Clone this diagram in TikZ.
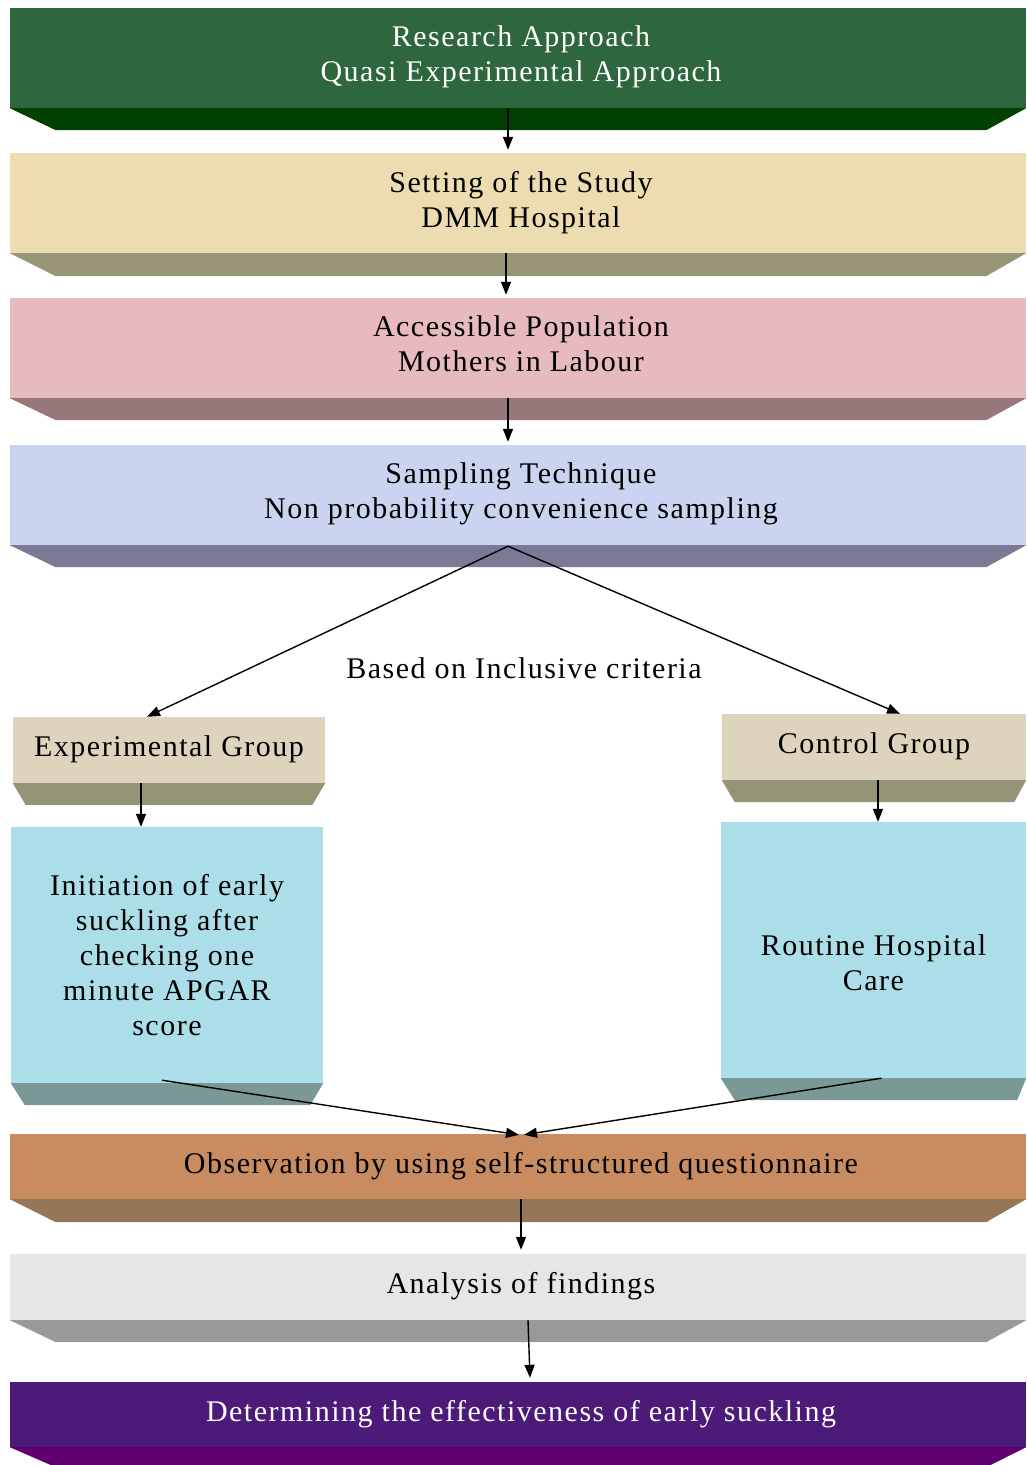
\documentclass[tikz,border=0pt]{standalone}
\usepackage{fontspec}
\setmainfont{Liberation Serif}[LetterSpace=5]
\usetikzlibrary{arrows.meta,calc}
\definecolor{greenface}{RGB}{46,102,62}
\definecolor{greenbev}{RGB}{0,64,0}
\definecolor{beigeface}{RGB}{236,220,176}
\definecolor{beigebev}{RGB}{152,150,118}
\definecolor{pinkface}{RGB}{230,186,190}
\definecolor{pinkbev}{RGB}{150,120,122}
\definecolor{lavface}{RGB}{202,212,240}
\definecolor{lavbev}{RGB}{122,122,150}
\definecolor{linenface}{RGB}{222,212,190}
\definecolor{linenbev}{RGB}{150,148,118}
\definecolor{waterface}{RGB}{172,222,234}
\definecolor{waterbev}{RGB}{122,152,150}
\definecolor{woodface}{RGB}{200,140,96}
\definecolor{woodbev}{RGB}{150,118,88}
\definecolor{marbleface}{RGB}{228,230,232}
\definecolor{marblebev}{RGB}{153,153,153}
\definecolor{purpleface}{RGB}{76,26,120}
\definecolor{purplebev}{RGB}{96,0,112}
\newcommand{\lift}[2]{\raisebox{#1}[\height][\depth]{\begin{tabular}{@{}c@{}}#2\end{tabular}}}
\newcommand{\bevel}[5]{% node, colour, left inset, right inset, height
  \fill[#2] (#1.south west) -- (#1.south east) -- ($(#1.south east)+(-#4,#5)$)
    -- ($(#1.south west)+(#3,#5)$) -- cycle;}
\tikzset{
  face/.style={rectangle, inner sep=0pt, draw=none, align=center,
    font=\fontsize{30}{35}\selectfont},
  arr/.style={-{Triangle[length=13pt,width=10pt]}, line width=1.4pt, black},
  lbl/.style={font=\fontsize{30}{35}\selectfont, inner sep=0pt}
}
\begin{document}
\begin{tikzpicture}[x=1pt,y=-1pt]
\useasboundingbox (0,0) rectangle (1026,1465);
% wide boxes
\node[face, fill=greenface, text=white, minimum width=1016, minimum height=100] (b1) at (518,58)
  {\lift{1pt}{\hspace*{6pt}Research Approach\\\hspace*{6pt}Quasi Experimental Approach}};
\bevel{b1}{greenbev}{46}{40}{22}
\node[face, fill=beigeface, minimum width=1016, minimum height=100] (b2) at (518,203)
  {\lift{0pt}{\hspace*{6pt}Setting of the Study\\\hspace*{6pt}DMM Hospital}};
\bevel{b2}{beigebev}{46}{40}{23}
\node[face, fill=pinkface, minimum width=1016, minimum height=100] (b3) at (518,348)
  {\lift{1pt}{\hspace*{6pt}Accessible Population\\\hspace*{6pt}Mothers in Labour}};
\bevel{b3}{pinkbev}{46}{40}{22}
\node[face, fill=lavface, minimum width=1016, minimum height=100] (b4) at (518,495)
  {\lift{1pt}{\hspace*{6pt}Sampling Technique\\\hspace*{6pt}Non probability convenience sampling}};
\bevel{b4}{lavbev}{46}{40}{22}
% group boxes
\node[face, fill=linenface, minimum width=312, minimum height=66] (eg) at (169,750)
  {\lift{1pt}{Experimental Group}};
\bevel{eg}{linenbev}{13}{13}{22}
\node[face, fill=linenface, minimum width=304, minimum height=66] (cg) at (874,747)
  {\lift{1pt}{Control Group}};
\bevel{cg}{linenbev}{13}{12}{22}
\node[face, fill=waterface, minimum width=312, minimum height=256] (ini) at (167,955)
  {Initiation of early\\suckling after\\checking one\\minute APGAR\\score};
\bevel{ini}{waterbev}{14}{13}{22}
\node[face, fill=waterface, minimum width=305, minimum height=256] (rt) at (873.5,950)
  {\lift{-16pt}{Routine Hospital\\Care}};
\bevel{rt}{waterbev}{14}{9}{22}
% lower wide boxes
\node[face, fill=woodface, minimum width=1016, minimum height=65] (ob) at (518,1166.5)
  {\lift{0pt}{\hspace*{6pt}Observation by using self-structured questionnaire}};
\bevel{ob}{woodbev}{46}{40}{23}
\node[face, fill=marbleface, minimum width=1016, minimum height=66] (an) at (518,1287)
  {\lift{1pt}{\hspace*{6pt}Analysis of findings}};
\bevel{an}{marblebev}{46}{40}{22}
\node[face, fill=purpleface, text=white, minimum width=1016, minimum height=65] (dt) at (518,1414.5)
  {\lift{0pt}{\hspace*{6pt}Determining the effectiveness of early suckling}};
\bevel{dt}{purplebev}{46}{40}{20}
% label
\node[lbl] (crit) at (524,668) {Based on Inclusive criteria};
% connectors
\draw[arr] ([xshift=-10pt]b1.south) -- ([xshift=-10pt,yshift=3pt]b2.north);
\draw[arr] ([xshift=-12pt]b2.south) -- ([xshift=-12pt,yshift=3pt]b3.north);
\draw[arr] ([xshift=-10pt]b3.south) -- ([xshift=-10pt,yshift=3pt]b4.north);
\draw[arr] ([xshift=-10pt,yshift=-1pt]b4.south) -- ([xshift=-22pt]eg.north);
\draw[arr] ([xshift=-10pt,yshift=-1pt]b4.south) -- ([xshift=26pt]cg.north);
\draw[arr] ([xshift=-28pt]eg.south) -- ([xshift=-26pt]ini.north);
\draw[arr] ([xshift=4pt]cg.south) -- ([xshift=4.5pt]rt.north);
\draw[arr] ([xshift=-5pt,yshift=3pt]ini.south) -- ([xshift=1pt,yshift=-1pt]ob.north);
\draw[arr] ([xshift=8pt]rt.south) -- ([xshift=6pt,yshift=-1pt]ob.north);
\draw[arr] ([xshift=3pt]ob.south) -- ([xshift=3pt,yshift=4pt]an.north);
\draw[arr] ([xshift=10pt]an.south) -- ([xshift=12pt,yshift=4pt]dt.north);
\end{tikzpicture}
\end{document}
